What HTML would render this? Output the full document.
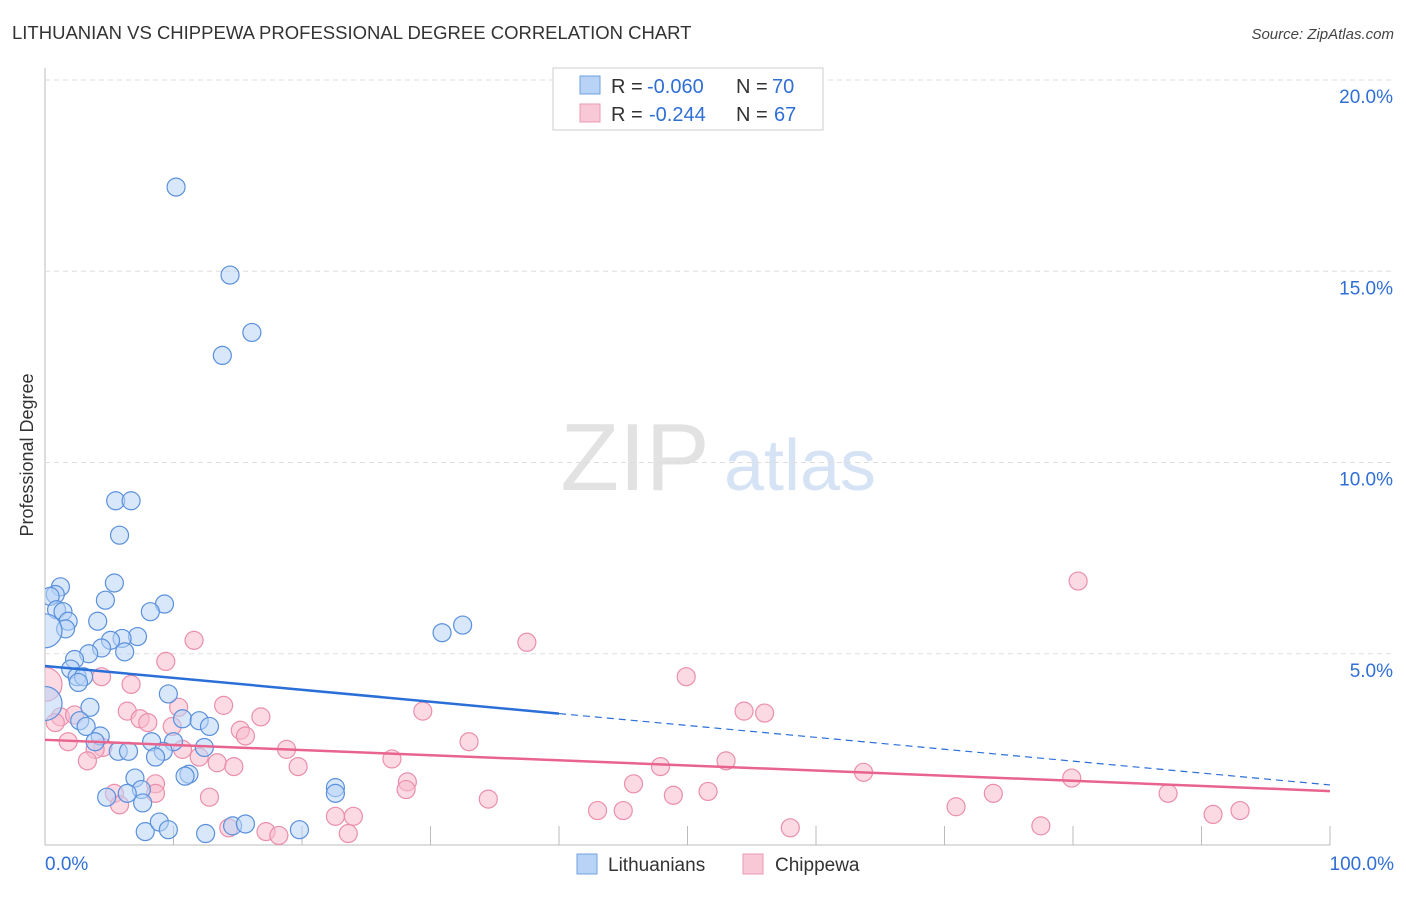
<!DOCTYPE html>
<html><head><meta charset="utf-8"><style>
body{margin:0;background:#fff;font-family:"Liberation Sans",sans-serif;}
svg text{font-family:"Liberation Sans",sans-serif;}
</style></head><body>
<svg id="chart" width="1406" height="892" xmlns="http://www.w3.org/2000/svg">
<defs><clipPath id="plotclip"><rect x="45" y="60" width="1360" height="786"/></clipPath></defs>
<text x="12" y="39" font-size="18.5" fill="#333">LITHUANIAN VS CHIPPEWA PROFESSIONAL DEGREE CORRELATION CHART</text>
<text x="1394" y="39" font-size="15" fill="#444" text-anchor="end" font-style="italic">Source: ZipAtlas.com</text>
<text transform="translate(33,455) rotate(-90)" font-size="18" fill="#333" text-anchor="middle">Professional Degree</text>
<g>
<text x="635" y="490" font-size="96" fill="#e2e2e2" text-anchor="middle" font-family="Liberation Serif,serif">ZIP</text>
<text x="800" y="490" font-size="72" fill="#d5e3f5" text-anchor="middle">atlas</text>
</g>
<g id="grid"></g><g id="pts" clip-path="url(#plotclip)"></g><g id="trend"></g>
<g>
<rect x="553" y="68" width="270" height="62" fill="#fff" stroke="#ccc"/>
<rect x="580" y="76" width="20" height="18" fill="#b8d3f5" stroke="#6fa0e0"/>
<rect x="580" y="104" width="20" height="18" fill="#f9c8d6" stroke="#ea9ab2"/>
<text x="611" y="93" font-size="20" fill="#333">R =</text>
<text x="647" y="93" font-size="20" fill="#2f6fd6">-0.060</text>
<text x="736" y="93" font-size="20" fill="#333">N =</text>
<text x="772" y="93" font-size="20" fill="#2f6fd6">70</text>
<text x="611" y="121" font-size="20" fill="#333">R =</text>
<text x="649" y="121" font-size="20" fill="#2f6fd6">-0.244</text>
<text x="736" y="121" font-size="20" fill="#333">N =</text>
<text x="774" y="121" font-size="20" fill="#2f6fd6">67</text>
</g>
<g>
<rect x="577" y="854" width="20" height="20" fill="#b8d3f5" stroke="#6fa0e0"/>
<text x="608" y="871" font-size="19" fill="#333">Lithuanians</text>
<rect x="743" y="854" width="20" height="20" fill="#f9c8d6" stroke="#ea9ab2"/>
<text x="775" y="871" font-size="19" fill="#333">Chippewa</text>
</g>
</svg>
<script>
const yTicks=[5,10,15,20];
const yTickLabels=["5.0%","10.0%","15.0%","20.0%"];
const xTicks=[0,10,20,30,40,50,60,70,80,90,100];
const blueX=[10.2,14.4,16.1,13.8,5.5,6.7,5.8,5.4,1.2,0.8,0.4,4.7,9.3,0.9,1.4,8.2,1.8,1.6,4.1,0,30.9,32.5,7.2,6.0,5.1,4.4,6.2,3.4,2.3,2.0,2.5,3.0,2.6,0,9.6,3.5,10.7,12.0,2.7,3.2,12.8,4.3,8.3,3.9,10.0,12.4,5.7,6.5,9.2,8.6,7.0,11.2,10.9,22.6,22.6,7.5,6.4,4.8,7.6,7.8,8.9,9.6,12.5,14.6,15.6,19.8];
const blueY=[17.2,14.9,13.4,12.8,9.0,9.0,8.1,6.85,6.75,6.55,6.5,6.4,6.3,6.15,6.1,6.1,5.85,5.65,5.85,5.6,5.55,5.75,5.45,5.4,5.35,5.15,5.05,5.0,4.85,4.6,4.4,4.4,4.25,3.7,3.95,3.6,3.3,3.25,3.25,3.1,3.1,2.85,2.7,2.7,2.7,2.55,2.45,2.45,2.45,2.3,1.75,1.85,1.8,1.5,1.35,1.45,1.35,1.25,1.1,0.35,0.6,0.4,0.3,0.5,0.55,0.4];
const pinkX=[80.4,37.5,11.6,9.4,49.9,4.4,0,6.7,13.9,10.4,29.4,54.4,56.0,6.4,1.2,2.3,7.4,16.8,8.0,0.8,9.9,15.2,15.6,1.8,33.0,10.7,4.5,3.9,18.8,12.0,3.3,27.0,53.0,13.4,14.7,19.7,47.9,63.7,79.9,28.2,45.8,8.6,28.1,8.6,51.6,73.8,87.4,5.4,48.9,12.8,34.5,5.8,70.9,43.0,45.0,90.9,93.0,22.6,24.0,77.5,58.0,14.3,17.2,18.2,23.6];
const pinkY=[6.9,5.3,5.35,4.8,4.4,4.4,4.2,4.2,3.65,3.6,3.5,3.5,3.45,3.5,3.35,3.4,3.3,3.35,3.2,3.2,3.1,3.0,2.85,2.7,2.7,2.5,2.55,2.5,2.5,2.3,2.2,2.25,2.2,2.15,2.05,2.05,2.05,1.9,1.75,1.65,1.6,1.6,1.45,1.35,1.4,1.35,1.35,1.35,1.3,1.25,1.2,1.05,1.0,0.9,0.9,0.8,0.9,0.75,0.75,0.5,0.45,0.45,0.35,0.25,0.3];
const blueTrend=[4.68,1.57];
const pinkTrend=[2.75,1.41];
const blueSolidEnd=40;
const NS="http://www.w3.org/2000/svg";
const X=v=>45+v*12.85, Y=v=>845-v*38.25;
function mk(tag,attrs,parent){const e=document.createElementNS(NS,tag);for(const k in attrs)e.setAttribute(k,attrs[k]);parent.appendChild(e);return e;}
const grid=document.getElementById('grid');
let ax=mk('line',{x1:45,y1:68,x2:45,y2:845,stroke:'#bbb'},grid);


let bx=mk('line',{x1:45,y1:845,x2:1330,y2:845,stroke:'#bbb'},grid);


yTicks.forEach((t,i)=>{
 const g=mk('line',{x1:45,y1:Y(t),x2:1394,y2:Y(t),stroke:'#ddd','stroke-dasharray':'5,4'},grid);
 
 
 const l=mk('text',{x:1393,y:Y(t)+23,'font-size':19,fill:'#2f6fd6','text-anchor':'end'},grid);
 l.textContent=yTickLabels[i];
 
 
});
xTicks.forEach(t=>{
 const k=mk('line',{x1:X(t),y1:826,x2:X(t),y2:845,stroke:'#bbb'},grid);
 
 
});
[[0,"0.0%","start",45],[100,"100.0%","end",1394]].forEach(a=>{
 const l=mk('text',{x:a[3],y:870,'font-size':19,fill:'#2f6fd6','text-anchor':a[2]},grid);
 l.textContent=a[1];
 
 
});
const pts=document.getElementById('pts');
function draw(xs,ys,fill,stroke,name){
 xs.forEach((x,i)=>{
  const big=(x===0);
  const c=mk('circle',{cx:X(x),cy:Y(ys[i]),r:big?17:9,fill:fill,'fill-opacity':0.55,stroke:stroke,'stroke-width':1.2},pts);
  
  
 });
}
draw(pinkX,pinkY,'#f7bccd','#ea8fab','chippewa-point');
draw(blueX,blueY,'#b8d3f5','#5a90dc','lithuanian-point');
const tr=document.getElementById('trend');
const bAt=x=>blueTrend[0]+(blueTrend[1]-blueTrend[0])*x/100;
let l1=mk('line',{x1:X(0),y1:Y(bAt(0)),x2:X(blueSolidEnd),y2:Y(bAt(blueSolidEnd)),stroke:'#2a6fd8','stroke-width':2.5},tr);


let l2=mk('line',{x1:X(blueSolidEnd),y1:Y(bAt(blueSolidEnd)),x2:X(100),y2:Y(bAt(100)),stroke:'#2a6fd8','stroke-width':1.2,'stroke-dasharray':'7,5'},tr);


let l3=mk('line',{x1:X(0),y1:Y(pinkTrend[0]),x2:X(100),y2:Y(pinkTrend[1]),stroke:'#e8648e','stroke-width':2.5},tr);


</script>
</body></html>
